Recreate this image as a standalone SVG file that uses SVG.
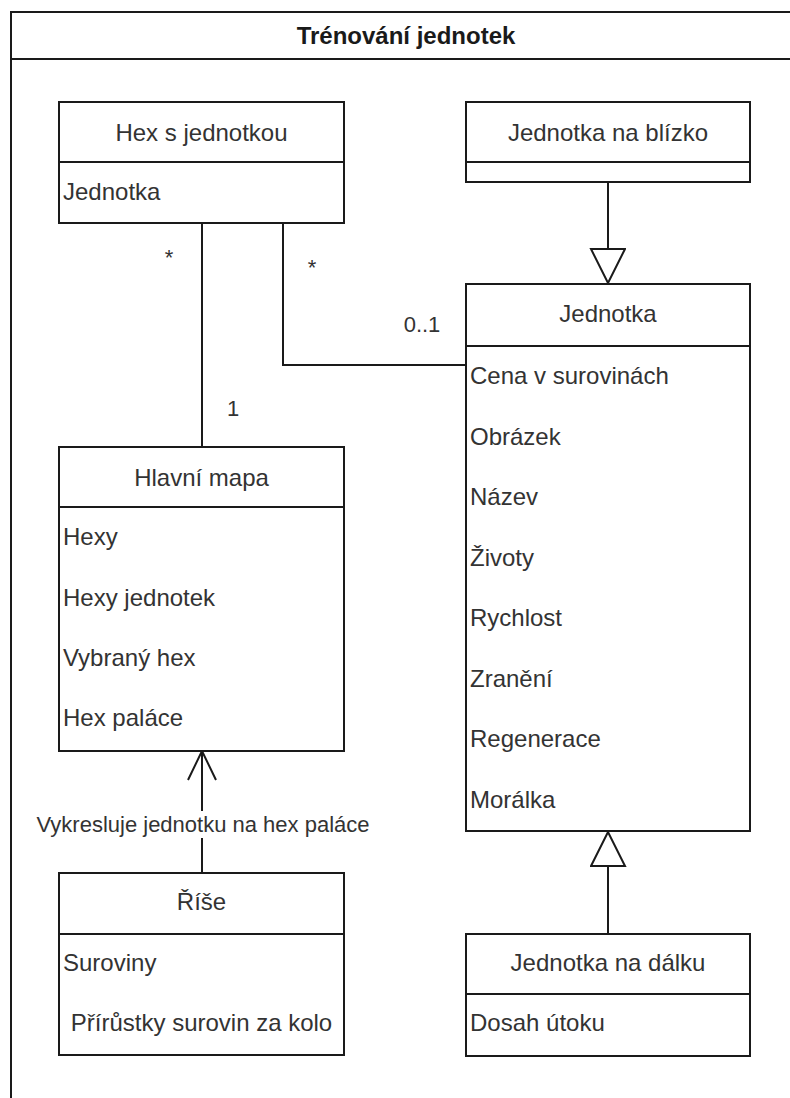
<svg xmlns="http://www.w3.org/2000/svg" width="790" height="1098" viewBox="0 0 790 1098">
  <style>
    .box { fill: #ffffff; stroke: #1a1a1a; stroke-width: 2; }
    .sep { stroke: #1a1a1a; stroke-width: 2; fill: none; }
    .edge { stroke: #1a1a1a; stroke-width: 2; fill: none; }
    .t { font-family: "Liberation Sans", Arial, sans-serif; font-size: 24px; fill: #333333; }
    .head { text-anchor: middle; }
    .lbl { font-family: "Liberation Sans", Arial, sans-serif; font-size: 22px; fill: #333333; }
    .title { font-family: "Liberation Sans", Arial, sans-serif; font-size: 24px; font-weight: bold; fill: #1a1a1a; text-anchor: middle; }
  </style>
  <defs>
    <marker id="inherit" viewBox="0 0 36 38" refX="36" refY="18" markerWidth="36" markerHeight="38" markerUnits="userSpaceOnUse" orient="auto">
      <path d="M1,1 L35,18 L1,35 Z" fill="#ffffff" stroke="#1a1a1a" stroke-width="2"/>
    </marker>
    <marker id="open" viewBox="0 0 32 32" refX="30" refY="16" markerWidth="32" markerHeight="32" markerUnits="userSpaceOnUse" orient="auto">
      <path d="M1,2 L30,16 L1,30" fill="none" stroke="#1a1a1a" stroke-width="2"/>
    </marker>
  </defs>

  <rect width="790" height="1098" fill="#ffffff"/>

  <!-- outer package frame -->
  <g id="frame">
    <rect class="box" x="11" y="12" width="800" height="1100"/>
    <line class="sep" x1="11" y1="59" x2="811" y2="59"/>
    <text class="title" x="406" y="44">Trénování jednotek</text>
  </g>

  <!-- connectors -->
  <g id="connectors">
    <!-- Hex s jednotkou — Hlavní mapa -->
    <line class="edge" x1="202" y1="223" x2="202" y2="447"/>
    <text class="lbl" x="169" y="265" text-anchor="middle">*</text>
    <text class="lbl" x="233" y="416" text-anchor="middle">1</text>
    <!-- Hex s jednotkou — Jednotka -->
    <polyline class="edge" points="283,223 283,365 466,365"/>
    <text class="lbl" x="312" y="275" text-anchor="middle">*</text>
    <text class="lbl" x="422" y="332" text-anchor="middle">0..1</text>
    <!-- Jednotka na blízko extends Jednotka -->
    <line class="edge" x1="608" y1="182" x2="608" y2="284" marker-end="url(#inherit)"/>
    <!-- Jednotka na dálku extends Jednotka -->
    <line class="edge" x1="608" y1="934" x2="608" y2="831" marker-end="url(#inherit)"/>
    <!-- Říše draws onto Hlavní mapa -->
    <line class="edge" x1="202" y1="873" x2="202" y2="751" marker-end="url(#open)"/>
    <rect x="30" y="811" width="350" height="27" fill="#ffffff"/>
    <text class="lbl" x="203" y="832" text-anchor="middle">Vykresluje jednotku na hex paláce</text>
  </g>

  <g id="hex-s-jednotkou">
    <rect class="box" x="59" y="102" width="285" height="121"/>
    <line class="sep" x1="59" y1="162" x2="344" y2="162"/>
    <text class="t head" x="201.5" y="141">Hex s jednotkou</text>
    <text class="t" x="63" y="200">Jednotka</text>
  </g>

  <g id="jednotka-na-blizko">
    <rect class="box" x="466" y="102" width="284" height="80"/>
    <line class="sep" x1="466" y1="162" x2="750" y2="162"/>
    <text class="t head" x="608" y="141">Jednotka na blízko</text>
  </g>

  <g id="jednotka">
    <rect class="box" x="466" y="284" width="284" height="547"/>
    <line class="sep" x1="466" y1="346" x2="750" y2="346"/>
    <text class="t head" x="608" y="322">Jednotka</text>
    <text class="t" x="470" y="384">Cena v surovinách</text>
    <text class="t" x="470" y="445">Obrázek</text>
    <text class="t" x="470" y="505">Název</text>
    <text class="t" x="470" y="566">Životy</text>
    <text class="t" x="470" y="626">Rychlost</text>
    <text class="t" x="470" y="687">Zranění</text>
    <text class="t" x="470" y="747">Regenerace</text>
    <text class="t" x="470" y="808">Morálka</text>
  </g>

  <g id="hlavni-mapa">
    <rect class="box" x="59" y="447" width="285" height="304"/>
    <line class="sep" x1="59" y1="507" x2="344" y2="507"/>
    <text class="t head" x="201.5" y="486">Hlavní mapa</text>
    <text class="t" x="63" y="545">Hexy</text>
    <text class="t" x="63" y="606">Hexy jednotek</text>
    <text class="t" x="63" y="666">Vybraný hex</text>
    <text class="t" x="63" y="726">Hex paláce</text>
  </g>

  <g id="rise">
    <rect class="box" x="59" y="873" width="285" height="182"/>
    <line class="sep" x1="59" y1="934" x2="344" y2="934"/>
    <text class="t head" x="201.5" y="910">Říše</text>
    <text class="t" x="63" y="971">Suroviny</text>
    <text class="t head" x="201.5" y="1031">Přírůstky surovin za kolo</text>
  </g>

  <g id="jednotka-na-dalku">
    <rect class="box" x="466" y="934" width="284" height="122"/>
    <line class="sep" x1="466" y1="994" x2="750" y2="994"/>
    <text class="t head" x="608" y="971">Jednotka na dálku</text>
    <text class="t" x="470" y="1031">Dosah útoku</text>
  </g>
</svg>
